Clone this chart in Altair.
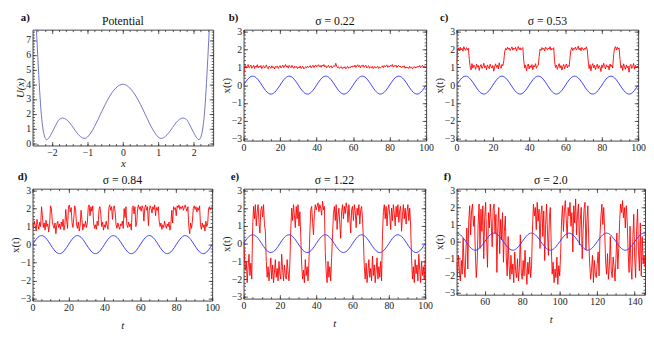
import altair as alt
import numpy as np
import pandas as pd

FONT = "Liberation Serif"
RED = "#ff0000"
BLUE = "#3b3bff"
POTC = "#7272c4"
TICK = "#333333"

# ---------------- panel a: potential ----------------
POT_X = [-2.45, -2.4, -2.35, -2.3, -2.25, -2.2, -2.15, -2.1, -2.0, -1.9, -1.8, -1.7, -1.6, -1.5, -1.4,
         -1.3, -1.2, -1.1, -1.05, -1.0, -0.9, -0.8, -0.7, -0.6, -0.5, -0.4, -0.3, -0.2, -0.1, 0.0,
         0.1, 0.2, 0.3, 0.4, 0.5, 0.6, 0.7, 0.8, 0.9, 1.0, 1.05, 1.1, 1.2, 1.3, 1.4, 1.5, 1.6, 1.7,
         1.8, 1.9, 2.0, 2.1, 2.15, 2.2, 2.25, 2.3, 2.35, 2.4, 2.45]
POT_U = [8.2, 5.8, 3.6, 1.9, 0.9, 0.4, 0.24, 0.33, 0.72, 1.2, 1.6, 1.71, 1.62, 1.38, 1.05,
         0.72, 0.46, 0.34, 0.34, 0.42, 0.72, 1.13, 1.62, 2.13, 2.62, 3.07, 3.45, 3.74, 3.93, 4.0,
         3.93, 3.74, 3.45, 3.07, 2.62, 2.13, 1.62, 1.13, 0.72, 0.42, 0.34, 0.34, 0.46, 0.72, 1.05, 1.38, 1.62, 1.71,
         1.6, 1.2, 0.72, 0.33, 0.24, 0.4, 0.9, 1.9, 3.6, 5.8, 8.2]

# ---------------- periodic forcing (blue) ----------------
BLUE_T = list(range(0, 101))
BLUE_X = [0, .155, .294, .405, .476, .5, .476, .405, .294, .155, 0, -.155, -.294, -.405, -.476, -.5, -.476, -.405, -.294, -.155,
          0, .155, .294, .405, .476, .5, .476, .405, .294, .155, 0, -.155, -.294, -.405, -.476, -.5, -.476, -.405, -.294, -.155,
          0, .155, .294, .405, .476, .5, .476, .405, .294, .155, 0, -.155, -.294, -.405, -.476, -.5, -.476, -.405, -.294, -.155,
          0, .155, .294, .405, .476, .5, .476, .405, .294, .155, 0, -.155, -.294, -.405, -.476, -.5, -.476, -.405, -.294, -.155,
          0, .155, .294, .405, .476, .5, .476, .405, .294, .155, 0, -.155, -.294, -.405, -.476, -.5, -.476, -.405, -.294, -.155,
          0]
BLUE_F_T = list(range(45, 147))
BLUE_F_X = [.5, .476, .405, .294, .155, 0, -.155, -.294, -.405, -.476, -.5, -.476, -.405, -.294, -.155, 0, .155, .294, .405, .476,
            .5, .476, .405, .294, .155, 0, -.155, -.294, -.405, -.476, -.5, -.476, -.405, -.294, -.155, 0, .155, .294, .405, .476,
            .5, .476, .405, .294, .155, 0, -.155, -.294, -.405, -.476, -.5, -.476, -.405, -.294, -.155, 0, .155, .294, .405, .476,
            .5, .476, .405, .294, .155, 0, -.155, -.294, -.405, -.476, -.5, -.476, -.405, -.294, -.155, 0, .155, .294, .405, .476,
            .5, .476, .405, .294, .155, 0, -.155, -.294, -.405, -.476, -.5, -.476, -.405, -.294, -.155, 0, .155, .294, .405, .476,
            .5, .476]

# ---------------- noisy responses (red), sampled every 0.5 ----------------
RED_B = [0.55, 1.02, 1.10, 0.95, 1.08, 1.15, 0.97, 1.05, 1.12, 0.94,
         1.03, 1.11, 0.93, 1.07, 1.00, 1.14, 0.96, 1.06, 0.99, 1.10,
         0.92, 1.04, 1.09, 0.95, 1.02, 1.13, 0.98, 0.91, 1.06, 1.01,
         0.94, 1.08, 0.97, 1.03, 0.90, 1.05, 0.99, 1.07, 0.93, 1.02,
         1.09, 0.96, 1.04, 1.12, 0.98, 1.06, 1.15, 1.00, 1.08, 0.95,
         1.11, 1.03, 0.97, 1.10, 1.01, 0.94, 1.06, 0.99, 1.04, 0.92,
         1.02, 0.96, 1.07, 0.93, 1.00, 1.05, 0.91, 0.98, 1.03, 0.95,
         1.06, 0.99, 1.02, 1.09, 0.96, 1.04, 1.11, 0.98, 1.07, 1.13,
         1.01, 1.08, 1.14, 1.03, 1.10, 0.99, 1.12, 1.06, 1.15, 1.02,
         1.09, 0.97, 1.05, 1.11, 0.98, 1.04, 1.08, 0.95, 1.02, 1.10,
         1.04, 1.22, 1.06, 0.97, 1.03, 0.93, 0.99, 1.04, 0.92, 1.00,
         0.95, 1.03, 0.91, 0.98, 1.05, 0.94, 1.01, 0.96, 1.06, 1.00,
         1.08, 1.02, 1.12, 0.99, 1.07, 1.14, 1.03, 1.10, 0.97, 1.09,
         1.04, 1.13, 0.99, 1.06, 1.11, 0.96, 1.03, 1.08, 0.94, 1.02,
         0.97, 1.05, 0.92, 1.00, 1.04, 0.95, 0.99, 1.06, 0.93, 1.01,
         0.96, 1.03, 1.07, 0.98, 1.10, 1.02, 1.06, 1.13, 0.99, 1.08,
         1.03, 1.11, 1.05, 1.15, 1.00, 1.09, 1.04, 1.12, 0.98, 1.07,
         1.10, 1.01, 1.06, 0.97, 1.04, 0.99, 1.08, 0.94, 1.02, 0.96,
         1.00, 0.93, 1.05, 0.97, 1.01, 0.91, 0.99, 1.04, 0.95, 1.02,
         0.98, 1.06, 1.01, 1.09, 0.97, 1.05, 1.11, 1.00, 1.07, 1.03,
         1.08]
RED_C = [1.20, 1.95, 2.08, 1.92, 2.12, 1.97, 2.05, 1.90, 2.15, 2.01,
         1.94, 2.10, 1.98, 2.06, 1.45, 1.02, 0.85, 1.20, 0.95, 1.12,
         1.05, 0.88, 1.18, 1.00, 1.10, 0.82, 1.07, 1.15, 0.93, 1.04,
         1.22, 0.97, 1.08, 0.86, 1.13, 1.01, 0.92, 1.17, 1.03, 0.95,
         1.10, 0.78, 1.06, 1.19, 0.99, 1.12, 0.90, 1.25, 1.04, 0.94,
         1.16, 1.08, 1.35, 1.85, 2.05, 1.96, 2.12, 2.00, 2.08, 1.93,
         2.03, 2.14, 1.95, 2.07, 2.00, 2.11, 1.92, 2.05, 2.16, 1.98,
         2.09, 1.96, 2.04, 2.10, 1.40, 0.95, 1.12, 0.80, 1.05, 1.18,
         0.90, 1.08, 0.98, 1.15, 0.86, 1.10, 1.02, 1.20, 0.94, 1.06,
         1.12, 1.60, 2.02, 1.94, 2.10, 1.99, 2.06, 1.91, 2.13, 2.02,
         1.97, 2.08, 2.01, 2.15, 1.95, 2.05, 1.99, 2.09, 1.30, 0.98,
         1.12, 0.88, 1.06, 1.20, 0.95, 1.10, 0.84, 1.03, 1.16, 0.92,
         1.07, 1.18, 0.97, 1.10, 1.04, 1.55, 1.98, 2.10, 1.93, 2.06,
         2.00, 2.13, 1.96, 2.04, 2.18, 1.97, 2.08, 1.92, 2.11, 2.03,
         1.95, 2.07, 2.00, 2.14, 1.96, 1.35, 0.92, 1.15, 0.80, 1.08,
         1.20, 0.96, 1.11, 0.87, 1.05, 1.17, 0.93, 1.09, 1.01, 0.76,
         1.13, 0.98, 1.22, 1.04, 0.90, 1.14, 1.00, 1.08, 0.85, 1.18,
         1.03, 1.12, 0.95, 1.70, 2.05, 2.15, 1.96, 2.12, 2.00, 2.08,
         1.45, 0.95, 1.10, 0.82, 1.19, 1.02, 0.88, 1.13, 0.97, 1.06,
         0.72, 1.08, 1.16, 0.93, 1.04, 1.21, 0.89, 1.10, 0.99, 1.07,
         0.98]
RED_D = [1.20, 0.90, 1.30, 1.05, 0.75, 1.40, 1.10, 0.85, 1.25, 1.00,
         2.10, 1.60, 0.95, 1.20, 0.80, 1.35, 1.00, 1.15, 0.70, 1.10,
         2.15, 2.00, 1.30, 1.05, 0.90, 1.20, 0.60, 1.10, 1.30, 0.95,
         1.15, 0.85, 1.25, 1.00, 1.40, 0.80, 1.10, 1.95, 1.30, 0.90,
         2.10, 2.20, 1.80, 2.05, 1.20, 0.95, 1.50, 2.15, 1.90, 1.10,
         0.90, 1.25, 0.75, 1.05, 1.90, 1.40, 0.80, 1.15, 1.00, 1.30,
         0.95, 1.20, 2.05, 2.20, 1.60, 2.10, 1.85, 2.15, 1.20, 0.90,
         1.10, 0.85, 1.30, 1.05, 1.95, 2.10, 1.70, 1.00, 1.25, 0.80,
         1.10, 0.95, 1.30, 1.05, 0.85, 2.05, 2.20, 1.90, 2.10, 1.40,
         2.00, 2.15, 1.80, 1.10, 0.90, 1.20, 1.00, 0.85, 1.15, 1.05,
         1.30, 0.90, 2.00, 1.50, 2.10, 1.10, 0.95, 1.25, 1.00, 1.15,
         0.80, 2.05, 2.15, 1.70, 2.10, 1.00, 1.20, 2.00, 2.20, 1.95,
         2.10, 1.85, 2.15, 2.00, 1.30, 2.05, 2.20, 1.90, 2.10, 1.05,
         1.90, 2.15, 2.00, 1.75, 2.10, 1.95, 2.20, 1.60, 2.05, 1.90,
         2.10, 1.30, 1.00, 1.20, 0.85, 1.10, 0.95, 1.30, 1.05, 0.90,
         1.15, 1.00, 1.25, 0.80, 1.10, 1.90, 1.20, 2.10, 1.95, 2.05,
         1.60, 2.15, 2.05, 2.20, 1.95, 2.10, 2.00, 2.15, 1.90, 2.05,
         2.20, 2.00, 1.85, 2.10, 1.00, 0.60, 1.20, 0.90, 1.30, 2.00,
         2.15, 1.95, 2.10, 1.80, 2.05, 1.90, 2.15, 1.10, 0.85, 1.20,
         0.95, 1.10, 0.75, 1.30, 1.00, 1.15, 2.00, 2.10, 1.95, 2.05,
         2.10]
RED_E = [0.1, -0.8, -1.5, -1.0, -2.2, -1.3, -0.6, -1.8, -1.1, -2.0,
         0.9, 2.1, 1.4, 2.2, 1.0, 1.8, 2.2, 1.2, 0.6, 1.9,
         2.1, 1.5, 2.2, 1.1, 0.7, -1.0, -1.9, -1.3, -2.1, -1.5,
         -0.8, -2.0, -1.2, -2.2, -1.6, -0.9, -1.9, -1.4, -2.1, -1.0,
         -1.7, -2.0, -0.6, -1.5, -2.1, -1.2, -1.8, -2.0, -0.9, -1.6,
         -2.1, -1.1, 0.8, 2.0, 1.3, 2.2, 1.6, 0.9, 2.1, 1.4,
         2.2, 1.0, 1.8, 0.4, -1.2, -2.0, -1.5, -2.2, -0.9, -1.8,
         -1.3, -2.1, -1.0, 0.6, 1.9, 2.1, 1.2, 0.5, 1.7, 2.2,
         1.9, 2.1, 2.3, 1.8, 2.2, 2.0, 1.6, 2.4, 1.9, 2.1,
         -0.5, -1.6, -2.2, -1.0, -1.9, -1.3, -2.1, -0.8, 0.5, 1.7,
         2.1, 1.3, 2.2, 0.8, 1.6, 2.0, 1.1, 0.3, 1.8, 2.2,
         1.4, 2.1, 1.7, 2.3, 2.0, 1.2, 2.2, 1.5, 0.6, 1.9,
         2.1, 1.3, 2.2, 1.8, 0.9, 2.0, 1.6, 2.2, 1.1, 1.9,
         2.1, 1.4, 0.2, -1.3, -2.0, -1.1, -2.2, -1.6, -0.9, -1.9,
         -1.4, -2.1, -0.7, -1.8, -1.2, -2.2, -1.5, -0.8, -2.0, -1.3,
         -1.9, -1.0, -2.1, 0.5, 1.8, 2.2, 1.4, 2.1, 1.0, 1.9,
         2.2, 1.6, 0.8, 2.0, 1.3, 2.2, 1.7, 1.0, 2.1, 1.5,
         2.2, 1.2, 1.9, 2.1, 0.7, 1.6, 2.2, 1.4, 2.0, 1.1,
         1.8, 2.2, 1.3, 2.0, 1.0, -0.8, -2.0, -1.3, -2.2, -0.9,
         -1.7, -1.2, -2.1, -0.6, -1.5, -2.2, -1.0, -1.8, -1.3, -2.0,
         -0.9]
RED_F = [-1.2, -2.0, -0.8, -1.7, -2.3, -1.1, -1.9, 0.2, -1.4, -2.1,
         -0.5, 0.8, -1.6, 1.2, 2.1, 0.4, 1.8, 2.2, 0.9, 1.5,
         -0.6, -2.1, -1.2, 1.0, 2.2, -0.4, 1.9, 0.6, 2.1, -1.0,
         1.4, 2.3, 0.2, -1.5, 1.7, 0.8, 2.2, 1.1, -0.3, 1.9,
         2.2, 0.5, 1.6, -1.8, 0.9, 2.0, -0.7, 1.3, 0.1, 1.7,
         -1.2, 0.6, 1.5, -0.9, -2.0, 0.3, -1.4, -2.2, -0.8, -1.9,
         -1.3, -2.4, -0.6, -1.7, -2.1, -1.0, -2.3, -1.5, 0.4, -1.8,
         -2.2, -1.1, -2.0, -0.5, -1.6, -2.5, -1.2, -1.9, -0.9, -2.1,
         -1.4, 0.8, 2.2, 1.5, 2.0, 0.7, 2.3, 1.2, 1.9, -0.4,
         1.6, 2.1, 0.3, 1.8, -1.1, 1.0, 2.2, 0.5, -0.8, 1.4,
         2.0, -0.3, -1.9, -1.2, -2.4, -1.6, -2.1, -0.9, -2.5, -1.4,
         -2.0, -0.7, 1.2, 2.1, 0.6, 1.8, 2.4, 1.3, 0.2, 2.0,
         1.5, 2.3, 0.9, 1.7, -0.6, 2.1, 1.1, 2.5, 0.4, 1.6,
         2.2, -0.2, 1.3, 2.0, -1.0, 0.7, 1.9, 2.3, -0.5, 1.2,
         2.1, 0.1, -1.3, -2.2, -1.6, -0.8, -2.4, -1.1, -1.9, -2.1,
         -1.3, -0.6, -2.0, 0.4, 1.5, 2.2, 1.0, 2.0, 0.6, -1.2,
         -1.9, -0.7, -2.2, -1.4, 0.3, -1.7, -2.1, -0.9, -1.5, -2.3,
         -1.0, 0.5, -1.6, -0.4, 1.3, 2.2, 1.7, 2.4, 1.4, 2.0,
         0.8, 2.1, 1.2, -0.6, -1.8, 0.9, -1.4, -2.2, 0.2, 1.6,
         -1.0, -2.1, 0.6, 1.9, -0.5, -1.7, 1.1, -2.0, 0.3, -1.3,
         -0.8, -1.5]

T_0_100 = [round(v, 2) for v in np.arange(0, 100.01, 0.5)]
T_45_145 = [round(v, 2) for v in np.arange(45, 145.51, 0.5)]


def frange(a, b, s):
    return [round(float(v), 3) for v in np.arange(a, b + s / 2, s)]


def ax(orient, values, size, labels, title="", **kw):
    return alt.Axis(orient=orient, values=values, tickSize=size, offset=-size, labels=labels,
                    title=title, domain=False, grid=False, tickColor=TICK, tickWidth=0.8,
                    labelFont=FONT, labelFontSize=10, labelColor="#1a1a1a", labelPadding=2,
                    labelFlush=False, labelOverlap=False, titleFont=FONT, titleFontSize=11,
                    titleFontWeight="normal", titleColor="#1a1a1a", **kw)


def line(df, xs, ys, xaxis, yaxis, color, width, opacity, interp="linear"):
    return alt.Chart(df).mark_line(color=color, strokeWidth=width, opacity=opacity, clip=True,
                                   interpolate=interp).encode(
        x=alt.X("x:Q", scale=xs, axis=xaxis),
        y=alt.Y("y:Q", scale=ys, axis=yaxis))


def panel(series, xdom, ydom, w, h, xmaj, xmin, ymaj, ymin, title, letter, ldx,
          xtitle, ytitle, ystyle="normal", xtpad=3):
    xs = alt.Scale(domain=xdom, nice=False, zero=False)
    ys = alt.Scale(domain=ydom, nice=False, zero=False)
    layers = []
    axis_sets = [
        (ax("bottom", xmaj, 4, True, xtitle, titleFontStyle="italic", titlePadding=xtpad),
         ax("left", ymaj, 4, True, ytitle, titleFontStyle=ystyle, titlePadding=0)),
        (ax("bottom", xmin, 2, False), ax("left", ymin, 2, False)),
        (ax("top", xmaj, 4, False), ax("right", ymaj, 4, False)),
        (ax("top", xmin, 2, False), ax("right", ymin, 2, False)),
    ]
    for i, (xa, ya) in enumerate(axis_sets):
        if i < len(series):
            df, color, width, interp = series[i]
            layers.append(line(df, xs, ys, xa, ya, color, width, 1.0, interp))
        else:
            df = series[0][0]
            layers.append(line(df, xs, ys, xa, ya, "#000000", 1, 0.0))
    lab = alt.Chart(pd.DataFrame({"s": [letter]})).mark_text(
        font=FONT, fontSize=11, fontWeight="bold", align="left", baseline="middle", color="#111111"
    ).encode(x=alt.value(ldx), y=alt.value(-12), text="s:N")
    ttl = alt.Chart(pd.DataFrame({"s": [title]})).mark_text(
        font=FONT, fontSize=12, align="center", baseline="middle", color="#111111"
    ).encode(x=alt.value(w / 2), y=alt.value(-9), text="s:N")
    layers.append(lab)
    layers.append(ttl)
    return alt.layer(*layers).resolve_axis(x="independent", y="independent").properties(
        width=w, height=h)


pot_df = pd.DataFrame({"x": POT_X, "y": POT_U})
blue_df = pd.DataFrame({"x": BLUE_T, "y": BLUE_X})
bluef_df = pd.DataFrame({"x": BLUE_F_T, "y": BLUE_F_X})


def red_df(t, v):
    return pd.DataFrame({"x": t, "y": v})


Y3 = [-3, -2, -1, 0, 1, 2, 3]
Y3m = frange(-3, 3, 0.2)
X100 = [0, 20, 40, 60, 80, 100]
X100m = frange(0, 100, 5)
YD = [-3.1, 3.1]

pa = panel([(pot_df, POTC, 1.0, "monotone")], [-2.55, 2.55], [-0.15, 7.7], 184, 118,
           [-2, -1, 0, 1, 2], frange(-2.4, 2.4, 0.2), list(range(0, 8)), frange(0, 7.6, 0.2),
           "Potential", "a)", -12, "x", "U(x)", "italic", xtpad=0)
pb = panel([(red_df(T_0_100, RED_B), RED, 0.9, "linear"), (blue_df, BLUE, 1.0, "monotone")],
           [0, 100], YD, 186, 113, X100, X100m, Y3, Y3m, "σ = 0.22", "b)", -15, "", "x(t)")
pc = panel([(red_df(T_0_100, RED_C), RED, 0.9, "linear"), (blue_df, BLUE, 1.0, "monotone")],
           [0, 100], YD, 185, 113, X100, X100m, Y3, Y3m, "σ = 0.53", "c)", -17, "", "x(t)")
pd_ = panel([(red_df(T_0_100, RED_D), RED, 0.9, "linear"), (blue_df, BLUE, 1.0, "monotone")],
            [0, 100], YD, 183, 114, X100, X100m, Y3, Y3m, "σ = 0.84", "d)", -15, "t", "x(t)", xtpad=7)
pe = panel([(red_df(T_0_100, RED_E), RED, 0.9, "linear"), (blue_df, BLUE, 1.0, "monotone")],
           [0, 100], YD, 185, 112, X100, X100m, Y3, Y3m, "σ = 1.22", "e)", -13, "t", "x(t)", xtpad=7)
pf = panel([(red_df(T_45_145, RED_F), RED, 0.9, "linear"), (bluef_df, BLUE, 1.0, "monotone")],
           [45, 145.5], YD, 192, 108, [60, 80, 100, 120, 140], frange(45, 145, 5), Y3, Y3m,
           "σ = 2.0", "f)", -13, "t", "x(t)", xtpad=7)

chart = alt.concat(pa, pb, pc, pd_, pe, pf, columns=3, bounds="flush",
                   spacing={"row": 44, "column": 31}).properties(
    padding=0, background="white"
).configure_view(stroke="#444444", strokeWidth=1)

chart.save("out.html", embed_options={"renderer": "svg", "actions": False})
